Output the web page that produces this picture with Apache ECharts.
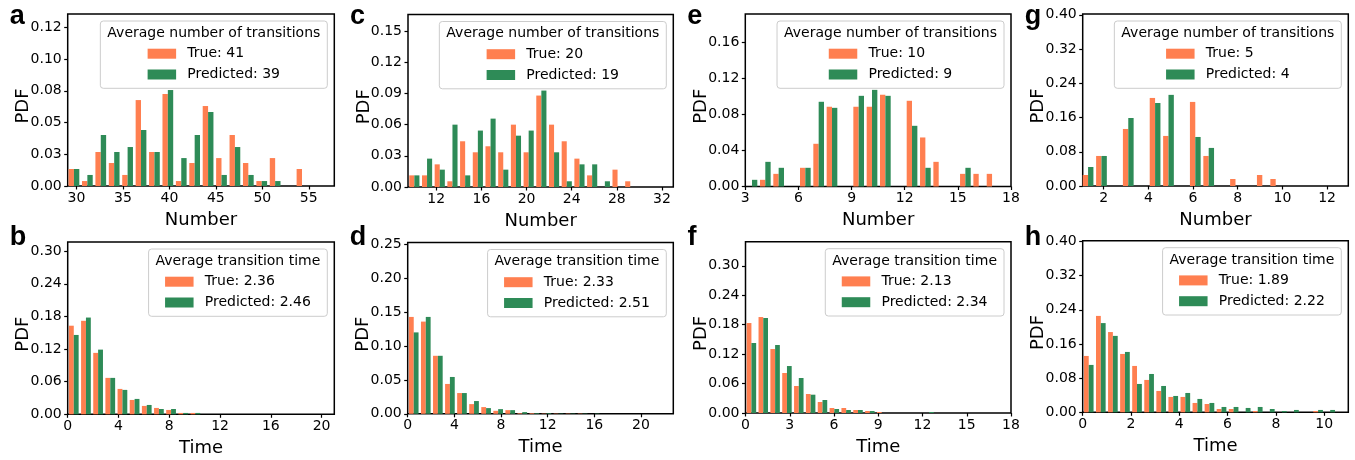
<!DOCTYPE html>
<html>
<head>
<meta charset="utf-8">
<script src="https://cdn.jsdelivr.net/npm/echarts@6/dist/echarts.min.js"></script>
<style>
  html, body { margin: 0; padding: 0; background: #fff; }
  #chart { width: 1355px; height: 460px; }
</style>
</head>
<body>
<div id="chart"></div>
<script>
// ---- data (PDF per bin) ----
const aTrue = [0.0134, 0.0039, 0.0268, 0.0181, 0.0087, 0.0677, 0.0268, 0.0725, 0.0039, 0.0181, 0.0630, 0.0220, 0.0402, 0.0181, 0.0039, 0.0220, 0, 0.0134];
const aPred = [0.0134, 0.0087, 0.0402, 0.0268, 0.0307, 0.0441, 0.0268, 0.0756, 0.0220, 0.0402, 0.0583, 0.0087, 0.0307, 0.0087, 0.0039, 0.0039, 0, 0];
const cTrue = [0.0112, 0.0112, 0.0218, 0.0055, 0.0440, 0.0334, 0.0392, 0.0334, 0.0600, 0.0334, 0.0880, 0.0600, 0.0440, 0.0273, 0.0112, 0, 0.0167, 0.0055];
const cPred = [0.0112, 0.0273, 0.0167, 0.0600, 0.0112, 0.0543, 0.0658, 0.0167, 0.0494, 0.0543, 0.0928, 0.0334, 0.0055, 0.0218, 0.0218, 0.0055, 0, 0];
const eTrue = [0, 0.0074, 0.0140, 0, 0.0207, 0.0473, 0.0883, 0, 0.0883, 0.0883, 0.1016, 0, 0.0949, 0.0543, 0.0273, 0, 0.0140, 0.0140, 0.0140];
const ePred = [0.0074, 0.0273, 0.0207, 0, 0.0207, 0.0938, 0.0871, 0, 0.1004, 0.1070, 0.1004, 0, 0.0672, 0.0207, 0, 0, 0.0207, 0, 0];
const gTrue = [0.0257, 0.0702, 0, 0.1333, 0, 0.2058, 0.1170, 0, 0.1965, 0.0702, 0, 0.0164, 0, 0.0257, 0.0164];
const gPred = [0.0444, 0.0702, 0, 0.1590, 0, 0.1940, 0.2130, 0, 0.1146, 0.0890, 0, 0, 0, 0, 0];
const bTrue = [0.163, 0.172, 0.113, 0.067, 0.0467, 0.0264, 0.0154, 0.0117, 0.008, 0.0025, 0.0025];
const bPred = [0.146, 0.178, 0.119, 0.067, 0.0449, 0.0283, 0.0172, 0.0098, 0.0098, 0.0025, 0.0025];
const dTrue = [0.1428, 0.1359, 0.0855, 0.0440, 0.0306, 0.0143, 0.0099, 0.0044, 0.0054, 0.0010, 0.0010, 0.0005, 0.0005, 0.0005, 0.0005];
const dPred = [0.1200, 0.1428, 0.0855, 0.0543, 0.0306, 0.0188, 0.0084, 0.0069, 0.0054, 0.0025, 0.0010, 0.0010, 0.0005, 0.0005, 0.0005, 0.0005];
const fTrue = [0.1833, 0.1955, 0.1303, 0.0815, 0.0550, 0.0387, 0.0224, 0.0102, 0.0102, 0.0061, 0.0041, 0.0020];
const fPred = [0.1426, 0.1935, 0.1385, 0.0957, 0.0713, 0.0373, 0.0265, 0.0081, 0.0061, 0.0061, 0.0040, 0, 0, 0, 0, 0.0020];
const hTrue = [0.132, 0.2258, 0.188, 0.1367, 0.1086, 0.0758, 0.050, 0.036, 0.036, 0.0219, 0.0195, 0.0078, 0.0078, 0, 0.003, 0, 0, 0, 0, 0.003, 0];
const hPred = [0.111, 0.209, 0.179, 0.1414, 0.0664, 0.0898, 0.0617, 0.0383, 0.0453, 0.0313, 0.0219, 0.0125, 0.0125, 0.0102, 0.0125, 0.0078, 0.003, 0.0055, 0, 0.0055, 0.0055];

// panel order: a c e g (top row), b d f h (bottom row)
const letters   = ['a', 'c', 'e', 'g', 'b', 'd', 'f', 'h'];
const trueVals  = [aTrue, cTrue, eTrue, gTrue, bTrue, dTrue, fTrue, hTrue];
const predVals  = [aPred, cPred, ePred, gPred, bPred, dPred, fPred, hPred];
const trueMean  = ['41', '20', '10', '5', '2.36', '2.33', '2.13', '1.89'];
const predMean  = ['39', '19', '9', '4', '2.46', '2.51', '2.34', '2.22'];
const binStart  = [29, 9.5, 3, 1.0, 0, 0, 0, 0];
const binWidth  = [1.444, 1.125, 0.753, 0.6, 0.958, 1.034, 0.803, 0.5];
const xMin      = [29.05, 9.5, 3, 1.06, 0, 0, 0, 0];
const xMax      = [57.75, 33.0, 18, 12.95, 21.0, 22.77, 18, 11];
const xTicks    = [[30, 35, 40, 45, 50, 55], [12, 16, 20, 24, 28, 32], [3, 6, 9, 12, 15, 18], [2, 4, 6, 8, 10, 12],
                   [0, 4, 8, 12, 16, 20], [0, 4, 8, 12, 16, 20], [0, 3, 6, 9, 12, 15, 18], [0, 2, 4, 6, 8, 10]];
const yMax      = [0.1355, 0.166, 0.191, 0.402, 0.317, 0.2525, 0.349, 0.402];
const yTicks    = [[0, 0.025, 0.05, 0.075, 0.1, 0.125], [0, 0.03, 0.06, 0.09, 0.12, 0.15], [0, 0.04, 0.08, 0.12, 0.16],
                   [0, 0.08, 0.16, 0.24, 0.32, 0.4], [0, 0.06, 0.12, 0.18, 0.24, 0.3], [0, 0.05, 0.1, 0.15, 0.2, 0.25],
                   [0, 0.06, 0.12, 0.18, 0.24, 0.3], [0, 0.08, 0.16, 0.24, 0.32, 0.4]];
const yTickLabels = [['0.00', '0.03', '0.05', '0.08', '0.10', '0.12'], ['0.00', '0.03', '0.06', '0.09', '0.12', '0.15'],
                     ['0.00', '0.04', '0.08', '0.12', '0.16'], ['0.00', '0.08', '0.16', '0.24', '0.32', '0.40'],
                     ['0.00', '0.06', '0.12', '0.18', '0.24', '0.30'], ['0.00', '0.05', '0.10', '0.15', '0.20', '0.25'],
                     ['0.00', '0.06', '0.12', '0.18', '0.24', '0.30'], ['0.00', '0.08', '0.16', '0.24', '0.32', '0.40']];
const xNames = ['Number', 'Number', 'Number', 'Number', 'Time', 'Time', 'Time', 'Time'];
const legendTitles = ['Average number of transitions', 'Average number of transitions', 'Average number of transitions', 'Average number of transitions',
                      'Average transition time', 'Average transition time', 'Average transition time', 'Average transition time'];

// ---- layout (left, top, width, height of each plot box) ----
const boxes = [
  [67.7, 14, 266.6, 172], [408, 14.5, 265.3, 172.5], [745.3, 14, 265.7, 172.5], [1082.7, 14, 265.6, 172],
  [67.7, 242, 266.6, 172.3], [407.7, 242.5, 265.6, 171.3], [745.5, 241.7, 265.5, 171.3], [1082.7, 240.7, 265.6, 171.6]
];
const colors = ['#FF7F50', '#2E8B57'];
const FONT = '"DejaVu Sans", sans-serif';

const measureCtx = document.createElement('canvas').getContext('2d');
function textWidth(t, size) {
  measureCtx.font = size + 'px "DejaVu Sans"';
  return measureCtx.measureText(t).width;
}

// two bars side by side inside each bin, 80% of the bin in total
function binBars(vals, start, width, slot) {
  return vals.map((v, k) => [
    start + width * (k + 0.1 + 0.4 * slot),
    start + width * (k + 0.1 + 0.4 * (slot + 1)),
    v
  ]).filter(d => d[2] > 0);
}

function renderBar(color) {
  return function (params, api) {
    const p0 = api.coord([api.value(0), api.value(2)]);
    const p1 = api.coord([api.value(1), 0]);
    const cs = params.coordSys;
    const shape = echarts.graphic.clipRectByRect(
      { x: p0[0], y: p0[1], width: p1[0] - p0[0], height: p1[1] - p0[1] },
      { x: cs.x, y: cs.y, width: cs.width, height: cs.height }
    );
    return shape && { type: 'rect', shape: shape, style: { fill: color } };
  };
}

const grids = [], xAxes = [], yAxes = [], series = [], graphics = [];

letters.forEach((letter, i) => {
  const [left, top, width, height] = boxes[i];
  const bottomRow = i >= 4;
  grids.push({ left, top, width, height, show: true, borderColor: '#000', borderWidth: 1.5, backgroundColor: 'transparent' });

  xAxes.push({
    type: 'value', gridIndex: i, min: xMin[i], max: xMax[i],
    axisLine: { show: false }, splitLine: { show: false },
    axisTick: { show: true, length: 3.5, lineStyle: { color: '#000', width: 1.2 }, customValues: xTicks[i] },
    axisLabel: { customValues: xTicks[i], color: '#000', fontSize: 14, fontFamily: FONT, margin: 5 }
  });
  yAxes.push({
    type: 'value', gridIndex: i, min: 0, max: yMax[i],
    axisLine: { show: false }, splitLine: { show: false },
    axisTick: { show: true, length: 3.5, lineStyle: { color: '#000', width: 1.2 }, customValues: yTicks[i] },
    axisLabel: {
      customValues: yTicks[i], color: '#000', fontSize: 14, fontFamily: FONT, margin: 6,
      formatter: function (v) {
        const k = yTicks[i].findIndex(t => Math.abs(t - v) < 1e-9);
        return k >= 0 ? yTickLabels[i][k] : '';
      }
    }
  });

  [trueVals[i], predVals[i]].forEach((vals, s) => {
    series.push({
      type: 'custom', xAxisIndex: i, yAxisIndex: i, silent: true,
      name: (s === 0 ? 'True: ' : 'Predicted: ') + (s === 0 ? trueMean[i] : predMean[i]),
      renderItem: renderBar(colors[s]),
      encode: { x: [0, 1], y: 2 },
      data: binBars(vals, binStart[i], binWidth[i], s)
    });
  });

  // panel letter
  graphics.push({
    type: 'text', x: left - 58, y: bottomRow ? 238 : 17, z: 100,
    style: { text: letter, fill: '#000', font: 'bold 27px "Liberation Sans", Arial, sans-serif', align: 'left', verticalAlign: 'middle' }
  });
  // axis names
  graphics.push({
    type: 'text', x: left + width / 2, y: top + height + 34, z: 100,
    style: { text: xNames[i], fill: '#000', font: '18px ' + FONT, align: 'center', verticalAlign: 'middle' }
  });
  graphics.push({
    type: 'text', x: left - 44, y: top + height / 2 + 6, rotation: Math.PI / 2, z: 100,
    style: { text: 'PDF', fill: '#000', font: '18px ' + FONT, align: 'center', verticalAlign: 'middle' }
  });

  // legend box
  const title = legendTitles[i];
  const boxW = textWidth(title, 14) + 14;
  const boxX = left + width - 7 - boxW;
  const boxY = top + 7;
  const cx = boxX + boxW / 2;
  const entries = ['True: ' + trueMean[i], 'Predicted: ' + predMean[i]];
  const blockW = 28.5 + 11.2 + Math.max(textWidth(entries[0], 14), textWidth(entries[1], 14));
  const px = cx - blockW / 2;
  graphics.push({
    type: 'rect', z: 90,
    shape: { x: boxX, y: boxY, width: boxW, height: 67.3, r: 3 },
    style: { fill: 'rgba(255,255,255,0.8)', stroke: '#cccccc', lineWidth: 1 }
  });
  graphics.push({
    type: 'text', x: cx, y: boxY + 12.3, z: 100,
    style: { text: title, fill: '#000', font: '14px ' + FONT, align: 'center', verticalAlign: 'middle' }
  });
  [32.7, 53.5].forEach((dy, k) => {
    graphics.push({
      type: 'rect', z: 100,
      shape: { x: px, y: boxY + dy - 5, width: 28.5, height: 10 },
      style: { fill: colors[k] }
    });
    graphics.push({
      type: 'text', x: px + 28.5 + 11.2, y: boxY + dy, z: 100,
      style: { text: entries[k], fill: '#000', font: '14px ' + FONT, align: 'left', verticalAlign: 'middle' }
    });
  });
});

const chart = echarts.init(document.getElementById('chart'), null, { renderer: 'canvas' });
chart.setOption({
  animation: false,
  backgroundColor: '#fff',
  grid: grids,
  xAxis: xAxes,
  yAxis: yAxes,
  series: series,
  graphic: graphics
});
</script>
</body>
</html>
